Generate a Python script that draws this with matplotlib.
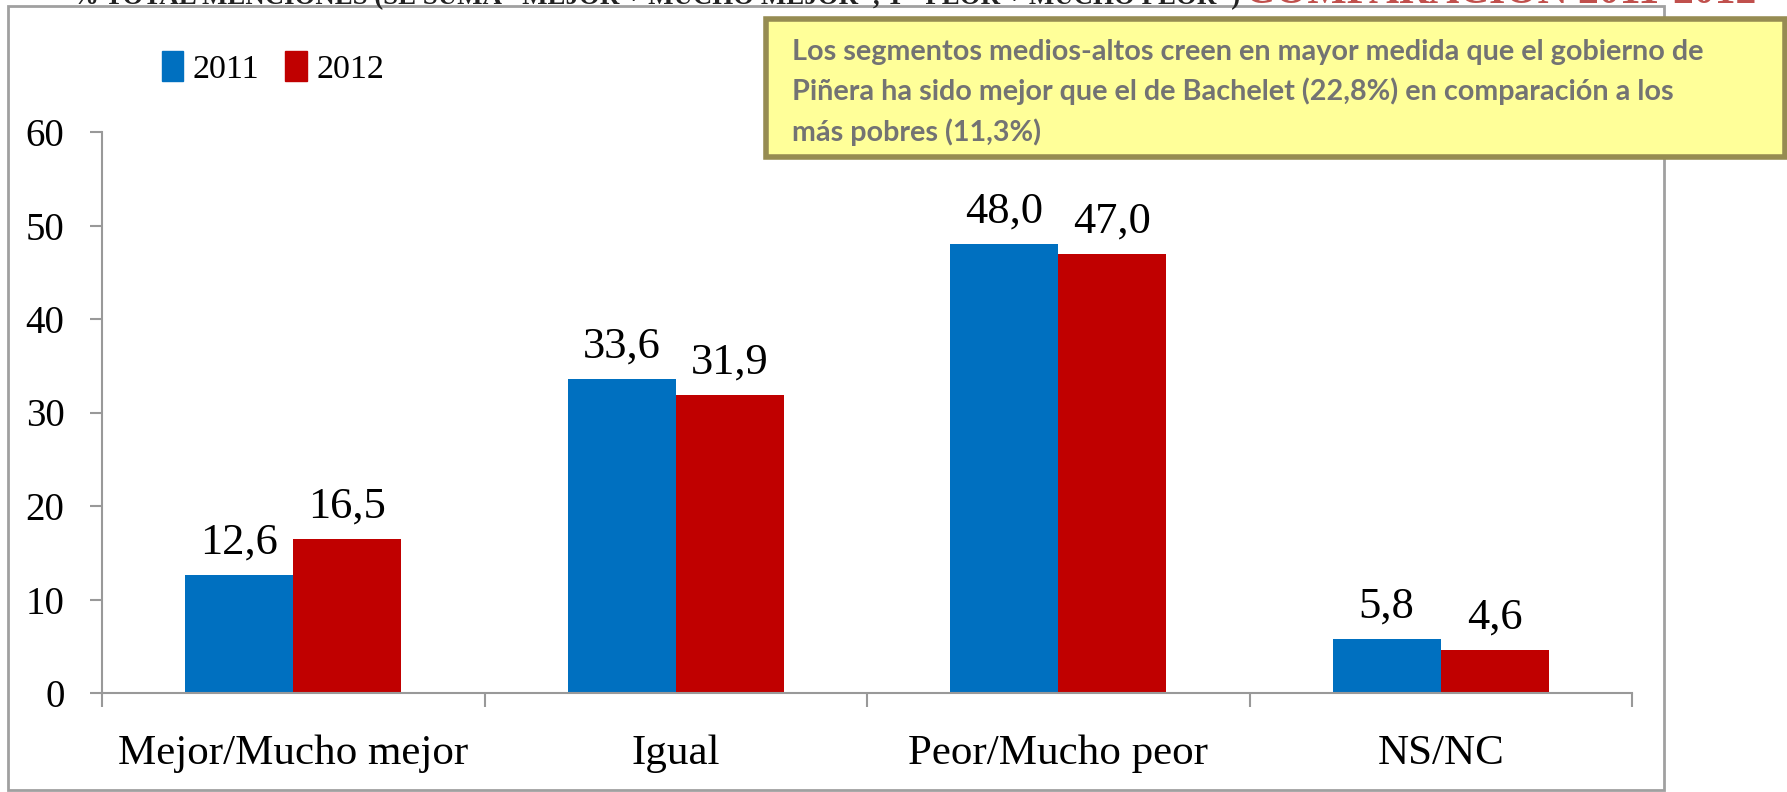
import matplotlib
matplotlib.use('Agg')
import matplotlib.pyplot as plt
from matplotlib.patches import Rectangle, Patch
import numpy as np

# datos
categorias = ['Mejor/Mucho mejor', 'Igual', 'Peor/Mucho peor', 'NS/NC']
valores_2011 = [12.6, 33.6, 48.0, 5.8]
valores_2012 = [16.5, 31.9, 47.0, 4.6]
años = ['2011', '2012']
ticks_y = [0, 10, 20, 30, 40, 50, 60]

titulo_negro = '% TOTAL MENCIONES (SE SUMA "MEJOR + MUCHO MEJOR", Y "PEOR + MUCHO PEOR")'
titulo_rojo = 'COMPARACIÓN 2011-2012'
nota = ("Los segmentos medios-altos creen en mayor medida que el gobierno de\n"
        "Piñera ha sido mejor que el de Bachelet (22,8%) en comparación a los\n"
        "más pobres (11,3%)")

AZUL = '#0070C0'
ROJO = '#C00000'
GRIS = '#999999'
SERIF = ['Liberation Serif', 'DejaVu Serif']

W, H = 1787, 792
fig = plt.figure(figsize=(W / 100, H / 100), dpi=100)
fig.patch.set_facecolor('white')


def px(x0, y0, x1, y1):
    """caja en pixeles (desde arriba) -> coords de figura"""
    return (x0 / W, 1 - y1 / H, (x1 - x0) / W, (y1 - y0) / H)


# marco del gráfico
fig.add_artist(Rectangle(px(8, 6, 1664, 790)[:2], *px(8, 6, 1664, 790)[2:],
                         transform=fig.transFigure, fill=False,
                         ec='#A0A0A0', lw=2, zorder=0))

ax = fig.add_axes(px(102, 132, 1632, 693))
x = np.arange(len(categorias))
ancho = 0.283

barras1 = ax.bar(x - ancho / 2, valores_2011, ancho, color=AZUL, zorder=2)
barras2 = ax.bar(x + ancho / 2, valores_2012, ancho, color=ROJO, zorder=2)

for barras, vals in ((barras1, valores_2011), (barras2, valores_2012)):
    for b, v in zip(barras, vals):
        ax.annotate(f'{v:.1f}'.replace('.', ','),
                    (b.get_x() + b.get_width() / 2, b.get_height()),
                    xytext=(0, 9), textcoords='offset points',
                    ha='center', va='bottom', fontsize=32, family=SERIF)

ax.set_xlim(-0.5, len(categorias) - 0.5)
ax.set_ylim(0, 60)
ax.set_yticks(ticks_y)
ax.set_yticklabels([str(t) for t in ticks_y], fontsize=28, family=SERIF)
ax.set_xticks(x)
ax.set_xticklabels(categorias, fontsize=31, family=SERIF)
ax.set_xticks(np.arange(-0.5, len(categorias)), minor=True)
ax.tick_params(axis='x', which='major', length=0, pad=30)
ax.tick_params(axis='x', which='minor', length=10, width=1.5, color=GRIS)
ax.tick_params(axis='y', length=9, width=1.5, color=GRIS, pad=18)

for s in ('top', 'right'):
    ax.spines[s].set_visible(False)
for s in ('left', 'bottom'):
    ax.spines[s].set_color(GRIS)
    ax.spines[s].set_linewidth(1.5)
ax.set_facecolor('none')

# leyenda
handles = [Patch(color=AZUL, label=años[0]), Patch(color=ROJO, label=años[1])]
fig.legend(handles=handles, loc='upper left', ncol=2, frameon=False,
           bbox_to_anchor=(162 / W, 1 - 51 / H), borderpad=0, borderaxespad=0,
           handlelength=0.63, handleheight=0.97, handletextpad=0.28,
           columnspacing=0.75, prop={'family': SERIF, 'size': 24.5})

# título recortado arriba (como en la imagen original)
fig.text(72 / W, 1 - 4 / H, titulo_negro, va='baseline', ha='left',
         fontsize=19.4, family=SERIF, fontweight='bold', color='#222222')
fig.text(1245 / W, 1 - 3 / H, titulo_rojo, va='baseline', ha='left',
         fontsize=30, family=SERIF, fontweight='bold', color='#C0504D')

# recuadro de nota
fig.add_artist(Rectangle(px(766, 19, 1785, 157)[:2], *px(766, 19, 1785, 157)[2:],
                         transform=fig.transFigure, fc='#FFFF99',
                         ec='#968C52', lw=4, zorder=5))
fig.text(792 / W, 1 - 39 / H, nota, va='top', ha='left', fontsize=20.7,
         family=['Lato', 'DejaVu Sans'], fontweight='bold', color='#737373',
         linespacing=1.57, zorder=6)

fig.savefig('out.png', dpi=100)
